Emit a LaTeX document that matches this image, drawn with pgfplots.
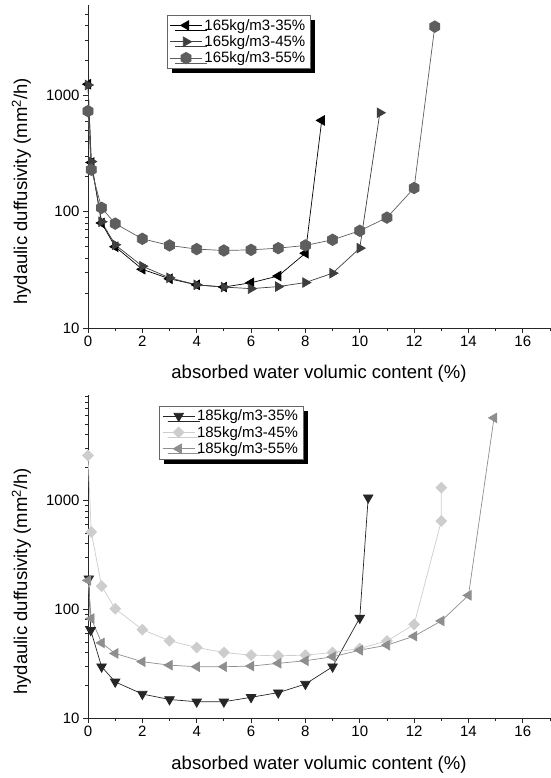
\documentclass[border=0pt]{standalone}
\usepackage{fontspec}
\setmainfont{Liberation Sans}
\usepackage{pgfplots}
\pgfplotsset{compat=1.18}
\usetikzlibrary{shadows,plotmarks}

% Origin-like filled hexagon
\pgfdeclareplotmark{hexagon*}{%
  \pgfpathmoveto{\pgfpointpolar{90}{\pgfplotmarksize}}%
  \pgfpathlineto{\pgfpointpolar{150}{\pgfplotmarksize}}%
  \pgfpathlineto{\pgfpointpolar{210}{\pgfplotmarksize}}%
  \pgfpathlineto{\pgfpointpolar{270}{\pgfplotmarksize}}%
  \pgfpathlineto{\pgfpointpolar{330}{\pgfplotmarksize}}%
  \pgfpathlineto{\pgfpointpolar{30}{\pgfplotmarksize}}%
  \pgfpathclose
  \pgfusepathqfillstroke}

\definecolor{topB}{HTML}{3E3E3E}
\definecolor{topC}{HTML}{5E5E5E}
\definecolor{botA}{HTML}{262626}
\definecolor{botB}{HTML}{CDCDCD}
\definecolor{botC}{HTML}{8E8E8E}

\begin{document}
\begin{tikzpicture}
\path[use as bounding box] (0,0) rectangle (550pt,778pt);

% ---- 165 kg/m3
\begin{axis}[
    at={(88pt,450pt)}, anchor=south west,
    scale only axis, width=462pt, height=323pt,
    ymode=log, xmin=0, xmax=17, ymin=10, ymax=6000,
    axis lines=left,
    axis line style={-, draw=black!85, line width=0.8pt},
    tick align=outside, major tick length=5pt, minor tick length=3pt,
    tick style={draw=black!85, line width=0.8pt},
    xtick={0,2,...,16}, minor xtick={1,3,...,17},
    ytick={10,100,1000}, yticklabels={10,100,1000},
    minor ytick={20,30,40,50,60,70,80,90,200,300,400,500,600,700,800,900,2000,3000,4000,5000},
    ticklabel style={font=\fontsize{15}{18}\selectfont},
    label style={font=\fontsize{18.5}{22}\selectfont},
    /pgf/number format/assume math mode=true,
    xlabel={absorbed water volumic content (\%)},
    ylabel={hydaulic duffusivity (mm\textsuperscript{2}/h)},
    xlabel style={at={(axis description cs:0.5,-0.141)}, anchor=center},
    ylabel style={at={(axis description cs:-0.144,0.423)}, anchor=center},
    clip=false,
    legend cell align=left,
    legend style={at={(0.170,0.969)}, anchor=north west,
      draw=black!60, fill=white, font=\fontsize{15}{17}\selectfont,
      drop shadow={shadow xshift=5pt, shadow yshift=-5pt, fill=black, opacity=1}},
  ]
\addplot[line width=0.7pt, mark size=5.5pt, color=black, mark=triangle*, mark options={rotate=90},
  legend image code/.code={\draw[mark repeat=2,mark phase=2] plot coordinates {(0pt,0pt)(16pt,0pt)(32pt,0pt)};}]
  coordinates {
  (0,1250)(0.12,265)(0.5,80)(1,50)(2,32)(3,26.5)(4,23.5)(5,22.5)(6,24.5)(7,28)(8,44)(8.6,610)};
\addplot[line width=0.7pt, mark size=5.5pt, color=topB, mark=triangle*, mark options={rotate=-90},
  legend image code/.code={\draw[mark repeat=2,mark phase=2] plot coordinates {(0pt,0pt)(16pt,0pt)(32pt,0pt)};}]
  coordinates {
  (0,1230)(0.12,270)(0.5,82)(1,52)(2,34)(3,27)(4,23.5)(5,22.5)(6,21.8)(7,22.7)(8,24.6)(9,29.6)(10,48.6)(10.74,710)};
\addplot[line width=0.7pt, mark size=5.8pt, color=topC, mark=hexagon*,
  legend image code/.code={\draw[mark repeat=2,mark phase=2] plot coordinates {(0pt,0pt)(16pt,0pt)(32pt,0pt)};}]
  coordinates {
  (0,733)(0.12,230)(0.5,108)(1,79)(2,58.5)(3,51.3)(4,47.7)(5,46.4)(6,47)(7,48.6)(8,51.3)(9,57.4)(10,68.6)(11,89)(12,160)(12.76,3910)};
\legend{165kg/m3-35\%,165kg/m3-45\%,165kg/m3-55\%}
\end{axis}

% ---- 185 kg/m3
\begin{axis}[
    at={(88pt,60pt)}, anchor=south west,
    scale only axis, width=462pt, height=323pt,
    ymode=log, xmin=0, xmax=17, ymin=10, ymax=9300,
    axis lines=left,
    axis line style={-, draw=black!85, line width=0.8pt},
    tick align=outside, major tick length=5pt, minor tick length=3pt,
    tick style={draw=black!85, line width=0.8pt},
    xtick={0,2,...,16}, minor xtick={1,3,...,17},
    ytick={10,100,1000}, yticklabels={10,100,1000},
    minor ytick={20,30,40,50,60,70,80,90,200,300,400,500,600,700,800,900,2000,3000,4000,5000,6000,7000,8000,9000},
    ticklabel style={font=\fontsize{15}{18}\selectfont},
    label style={font=\fontsize{18.5}{22}\selectfont},
    /pgf/number format/assume math mode=true,
    xlabel={absorbed water volumic content (\%)},
    ylabel={hydaulic duffusivity (mm\textsuperscript{2}/h)},
    xlabel style={at={(axis description cs:0.5,-0.145)}, anchor=center},
    ylabel style={at={(axis description cs:-0.144,0.423)}, anchor=center},
    clip=false,
    legend cell align=left,
    legend style={at={(0.154,0.967)}, anchor=north west,
      draw=black!60, fill=white, font=\fontsize{15}{17}\selectfont,
      drop shadow={shadow xshift=5pt, shadow yshift=-5pt, fill=black, opacity=1}},
  ]
\addplot[line width=0.7pt, mark size=5.5pt, color=botA, mark=triangle*, mark options={rotate=180},
  legend image code/.code={\draw[mark repeat=2,mark phase=2] plot coordinates {(0pt,0pt)(16pt,0pt)(32pt,0pt)};}]
  coordinates {
  (0.03,191)(0.1,64)(0.5,29.6)(1,21.5)(2,16.6)(3,14.8)(4,14.1)(5,14.1)(6,15.5)(7,17.1)(8,20.5)(9,29.6)(10,83)(10.31,1059)};
\addplot[line width=0.7pt, color=botB, mark=square*, mark size=3.8pt, mark options={rotate=45},
  legend image code/.code={\draw[mark repeat=2,mark phase=2] plot coordinates {(0pt,0pt)(16pt,0pt)(32pt,0pt)};}]
  coordinates {
  (0,2590)(0.12,512)(0.5,163)(1,101)(2,65)(3,51.2)(4,44.5)(5,40)(6,37.8)(7,37.3)(8,37.8)(9,40)(10,43.6)(11,51)(12,72.4)(13,646)(13,1309)};
\addplot[line width=0.7pt, mark size=5.5pt, color=botC, mark=triangle*, mark options={rotate=90},
  legend image code/.code={\draw[mark repeat=2,mark phase=2] plot coordinates {(0pt,0pt)(16pt,0pt)(32pt,0pt)};}]
  coordinates {
  (0,184)(0.12,82)(0.5,49)(1,39.2)(2,32.9)(3,30.6)(4,29.6)(5,29.6)(6,30)(7,31.8)(8,33.6)(9,36.5)(10,42)(11,46.7)(12,56.5)(13,78)(14,134)(14.94,5730)};
\legend{185kg/m3-35\%,185kg/m3-45\%,185kg/m3-55\%}
\end{axis}
\end{tikzpicture}
\end{document}
